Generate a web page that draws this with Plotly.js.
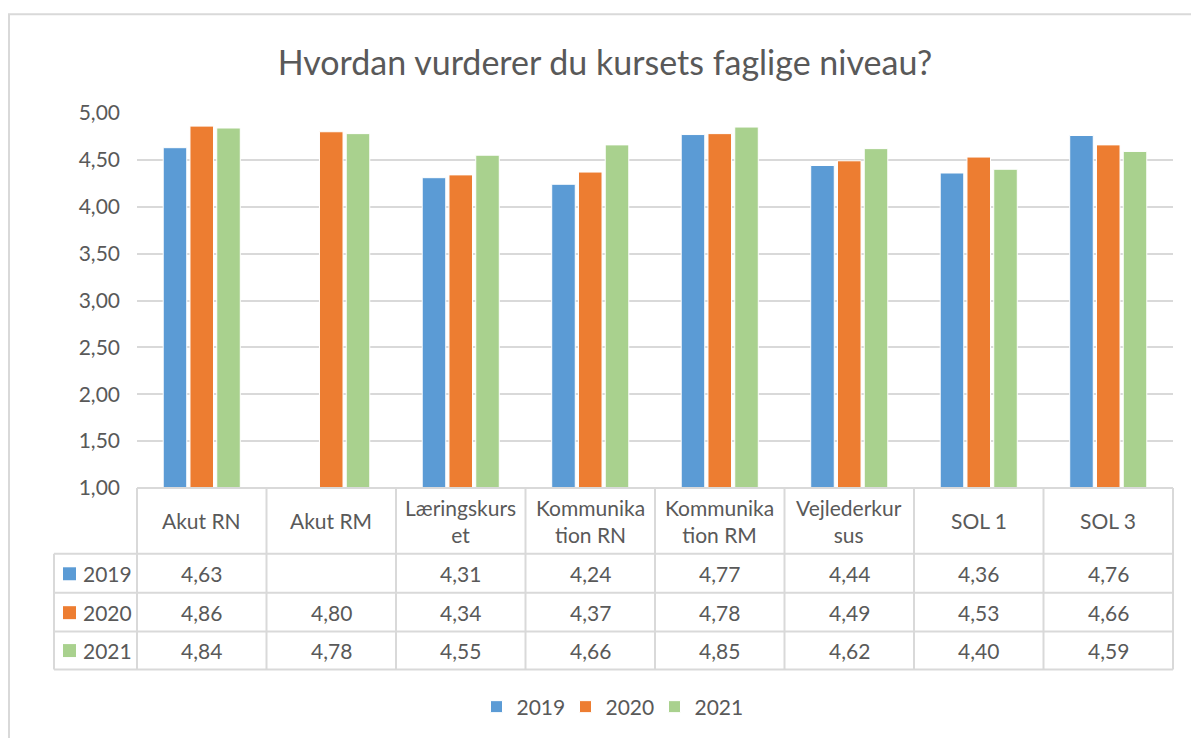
<!DOCTYPE html>
<html>
<head>
<meta charset="utf-8">
<script src="https://cdn.plot.ly/plotly-3.0.1.min.js"></script>
<style>html,body{margin:0;padding:0;background:#fff;}#chart{width:1191px;height:738px;}</style>
</head>
<body>
<div id="chart"></div>
<script>
const chartTitle = 'Hvordan vurderer du kursets faglige niveau?';
const categories = ['Akut RN', 'Akut RM', 'Læringskurset', 'Kommunikation RN', 'Kommunikation RM', 'Vejlederkursus', 'SOL 1', 'SOL 3'];
const categoryLabels = ['Akut RN', 'Akut RM', 'Læringskurs<br>et', 'Kommunika<br>tion RN', 'Kommunika<br>tion RM', 'Vejlederkur<br>sus', 'SOL 1', 'SOL 3'];
const seriesNames = ['2019', '2020', '2021'];
const v2019 = [4.63, null, 4.31, 4.24, 4.77, 4.44, 4.36, 4.76];
const v2020 = [4.86, 4.80, 4.34, 4.37, 4.78, 4.49, 4.53, 4.66];
const v2021 = [4.84, 4.78, 4.55, 4.66, 4.85, 4.62, 4.40, 4.59];
const colors = ['#5b9bd5', '#ed7d31', '#a9d18e'];
const yTicks = [1, 1.5, 2, 2.5, 3, 3.5, 4, 4.5, 5];

const seriesValues = [v2019, v2020, v2021];
const W = 1191, H = 738;
const L = 137, R = 1173, T = 113, B = 489;
const px = p => (p - L) / (R - L);
const py = p => (B - p) / (B - T);
const FONT = 'Lato, "Noto Sans", sans-serif';
const TXT = '#595959';
const GRID = '#d9d9d9';
const FS = 21;

const traces = seriesNames.map((name, s) => ({
  type: 'bar',
  name: name,
  x: categories,
  y: seriesValues[s],
  marker: {color: colors[s], line: {color: '#ffffff', width: 1}},
  hoverinfo: 'x+y+name'
}));

const fmt = v => (v === null || v === undefined) ? '' : v.toFixed(2).replace('.', ',');

const shapes = [];
const annotations = [];
// outer chart border
shapes.push({type: 'rect', xref: 'paper', yref: 'paper', x0: px(9), x1: px(1230), y0: py(790), y1: py(14), line: {color: GRID, width: 2}, layer: 'below'});
// table lines
const headerBottom = 555;
const rowBottoms = [594, 633, 671];
const rowCenters = [575, 614, 652];
shapes.push({type: 'line', xref: 'paper', yref: 'paper', x0: 0, x1: 1, y0: 0, y1: 0, line: {color: GRID, width: 2}});
[headerBottom].concat(rowBottoms).forEach(p => {
  shapes.push({type: 'line', xref: 'paper', yref: 'paper', x0: px(54), x1: 1, y0: py(p), y1: py(p), line: {color: GRID, width: 2}});
});
shapes.push({type: 'line', xref: 'paper', yref: 'paper', x0: px(54), x1: px(54), y0: py(headerBottom), y1: py(671), line: {color: GRID, width: 2}});
for (let i = 0; i <= categories.length; i++) {
  const xp = i / categories.length;
  shapes.push({type: 'line', xref: 'paper', yref: 'paper', x0: xp, x1: xp, y0: 0, y1: py(671), line: {color: GRID, width: 2}});
}
// header labels
categoryLabels.forEach((lab, i) => {
  annotations.push({xref: 'paper', yref: 'paper', x: (i + 0.5) / categories.length, y: py(522), text: lab, showarrow: false, xanchor: 'center', yanchor: 'middle', font: {family: FONT, size: FS, color: TXT}});
});
// rows
seriesNames.forEach((name, s) => {
  const yc = py(rowCenters[s]);
  shapes.push({type: 'rect', xref: 'paper', yref: 'paper', x0: px(63), x1: px(76), y0: py(rowCenters[s] + 6.5), y1: py(rowCenters[s] - 6.5), fillcolor: colors[s], line: {width: 0}});
  annotations.push({xref: 'paper', yref: 'paper', x: px(81), y: yc, text: name, showarrow: false, xanchor: 'left', yanchor: 'middle', font: {family: FONT, size: FS, color: TXT}});
  seriesValues[s].forEach((v, i) => {
    const t = fmt(v);
    if (t) annotations.push({xref: 'paper', yref: 'paper', x: (i + 0.5) / categories.length, y: yc, text: t, showarrow: false, xanchor: 'center', yanchor: 'middle', font: {family: FONT, size: FS, color: TXT}});
  });
});

const layout = {
  width: W, height: H,
  margin: {l: L, r: W - R, t: T, b: H - B, pad: 0},
  paper_bgcolor: '#ffffff', plot_bgcolor: 'rgba(0,0,0,0)',
  separators: ',.',
  font: {family: FONT, size: FS, color: TXT},
  title: {text: chartTitle, font: {family: FONT, size: 34, color: TXT}, xref: 'container', yref: 'container', x: 605 / W, y: 1 - 63 / H, xanchor: 'center', yanchor: 'middle'},
  barmode: 'group', bargap: 0.38, bargroupgap: 0.12,
  xaxis: {type: 'category', range: [-0.5, categories.length - 0.5], showticklabels: false, showgrid: false, zeroline: false, showline: false, ticks: '', fixedrange: true},
  yaxis: {range: [1, 5], tickvals: yTicks, tickformat: '.2f', showgrid: true, gridcolor: GRID, gridwidth: 2, zeroline: false, showline: false, ticks: '', ticklabelstandoff: 16, tickfont: {family: FONT, size: FS, color: TXT}, fixedrange: true},
  legend: {orientation: 'h', xref: 'paper', yref: 'paper', x: px(610), y: py(707), xanchor: 'center', yanchor: 'middle', font: {family: FONT, size: FS, color: TXT}, itemwidth: 30, entrywidth: 44, traceorder: 'normal'},
  shapes: shapes,
  annotations: annotations
};

Plotly.newPlot('chart', traces, layout, {displayModeBar: false, staticPlot: true});
</script>
</body>
</html>
